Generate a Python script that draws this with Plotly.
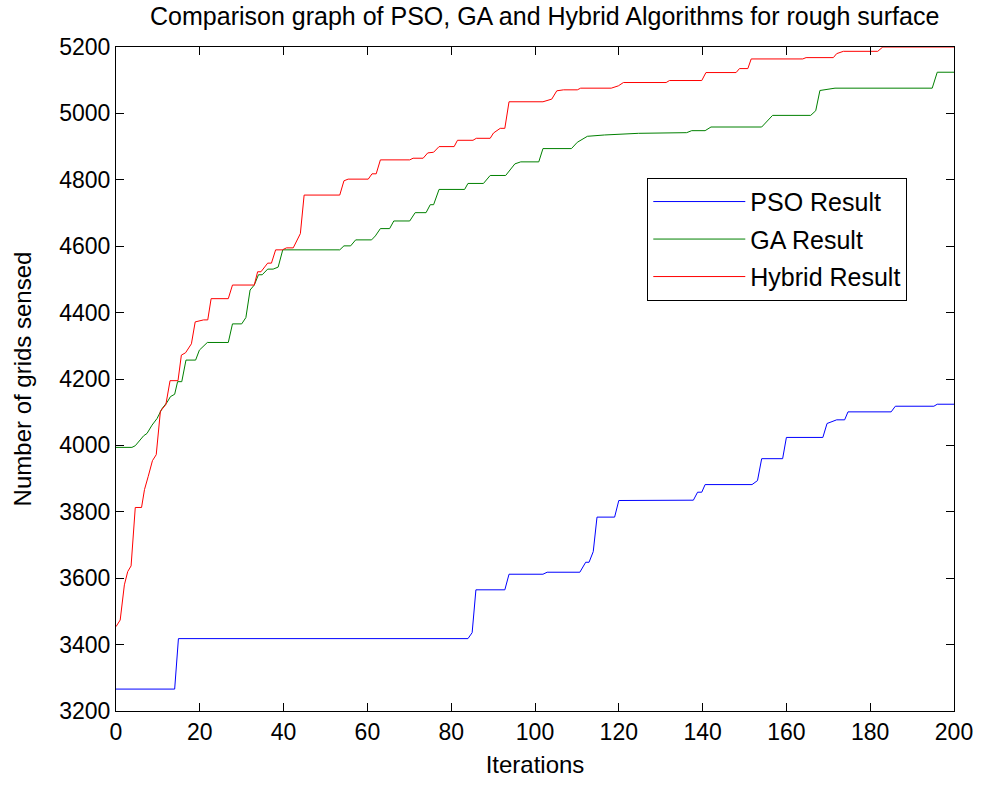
import plotly.graph_objects as go

# Hybrid (red) breakpoints: iteration, grids sensed
hyb_x = [0, 1, 2, 2.8, 3.6, 4.6, 6.1, 6.8, 7.7, 8.7, 9.6, 10.6, 11.9, 12.9, 14.8, 15.6, 16.6, 18.0,
         18.9, 20.9, 21.9, 22.7, 26.8, 27.8, 33.0, 33.8, 34.6, 36.2, 37.1, 38.1, 39.7, 40.7, 42.3,
         44.0, 44.9, 53.4, 54.4, 55.4, 60.2, 61.1, 62.1, 63.1, 70.1, 70.9, 73.3, 74.4, 75.8, 77.1,
         80.7, 81.5, 85.2, 86.0, 89.3, 90.1, 91.7, 92.8, 93.8, 101.9, 104.0, 105.2, 106.8, 110.1,
         110.9, 118.2, 119.9, 121.1, 131.3, 132.1, 139.8, 140.8, 148.0, 148.8, 150.8, 151.6, 163.9,
         164.7, 171.2, 172.0, 173.6, 181.8, 183.0, 200]
hyb_y = [3454, 3474, 3580, 3620, 3637, 3813, 3813, 3867, 3907, 3954, 3972, 4103, 4123, 4195, 4195, 4272, 4279, 4306,
         4372, 4378, 4378, 4442, 4442, 4483, 4483, 4523, 4523, 4549, 4549, 4589, 4589, 4595, 4595,
         4638, 4754, 4754, 4797, 4802, 4802, 4818, 4818, 4860, 4860, 4865, 4865, 4881, 4883, 4900,
         4900, 4919, 4919, 4925, 4925, 4941, 4955, 4955, 5035, 5035, 5043, 5068, 5071, 5071,
         5076, 5076, 5083, 5093, 5093, 5099, 5099, 5123, 5123, 5135, 5135, 5164, 5164,
         5168, 5168, 5180, 5187, 5187, 5200, 5200]

# GA (green) breakpoints
ga_x = [0, 3.8, 4.6, 6.6, 7.4, 8.6, 9.8, 11.0, 12.2, 13.0, 14.0, 14.7, 15.7, 16.7, 19.0, 19.9, 21.8, 26.8,
        27.8, 30.0, 31.0, 32.0, 33.0, 34.0, 34.9, 36.2, 37.5, 38.7, 39.8, 53.4, 54.4, 56.0, 57.2, 61.0,
        61.9, 63.1, 65.3, 66.3, 70.1, 71.4, 74.0, 75.0, 75.8, 77.1, 83.2, 84.0, 87.7, 89.3, 93.0, 95.2,
        96.6, 100.9, 101.9, 108.7, 110.1, 112.5, 116.6, 124.7, 136.2, 137.4, 140.6, 142.0, 154.1, 154.9,
        156.7, 165.8, 167.0, 168.0, 171.6, 194.8, 196.0, 200]
ga_y = [3994, 3994, 3999, 4029, 4036, 4061, 4081, 4111, 4130, 4147, 4154, 4192, 4192, 4257, 4257, 4287, 4310, 4310,
        4366, 4366, 4385, 4468, 4483, 4514, 4514, 4531, 4531, 4537, 4589, 4589, 4601, 4601, 4619, 4619,
        4631, 4653, 4653, 4676, 4676, 4701, 4701, 4725, 4725, 4771, 4771, 4789, 4789, 4813, 4813, 4848,
        4854, 4854, 4894, 4894, 4913, 4931, 4935, 4940, 4942, 4948, 4948, 4959, 4959, 4969,
        4994, 4994, 5008, 5069, 5076, 5076, 5124, 5124]

# PSO (blue) breakpoints
pso_x = [0, 14.0, 14.9, 84.0, 85.0, 85.9, 92.8, 93.8, 101.9, 102.9, 110.7, 112.1, 112.9, 113.9, 114.8,
         119.0, 120.0, 137.8, 138.8, 139.8, 140.6, 151.8, 153.1, 154.1, 159.1, 160.0, 168.7, 169.7,
         172.0, 173.9, 174.7, 185.0, 186.0, 195.2, 196.0, 200]
pso_y = [3266, 3266, 3418, 3418, 3436, 3565, 3565, 3612, 3612, 3618, 3618, 3648, 3648, 3680, 3784,
         3784, 3834, 3835, 3859, 3859, 3882, 3882, 3894, 3960, 3960, 4024, 4024, 4066,
         4077, 4077, 4101, 4101, 4118, 4118, 4124, 4124]

x_ticks = list(range(0, 201, 20))
y_ticks = list(range(3200, 5201, 200))

FONT = "Liberation Sans, Arial, sans-serif"

fig = go.Figure()
fig.add_trace(go.Scatter(x=pso_x, y=pso_y, mode="lines", name="PSO Result", legendgroup="a",
                         line=dict(color="#0000ff", width=1)))
fig.add_trace(go.Scatter(x=ga_x, y=ga_y, mode="lines", name="GA Result", legendgroup="b",
                         line=dict(color="#008000", width=1)))
fig.add_trace(go.Scatter(x=hyb_x, y=hyb_y, mode="lines", name="Hybrid Result", legendgroup="c",
                         line=dict(color="#ff0000", width=1)))

axis_common = dict(showgrid=False, zeroline=False, showline=True, linecolor="black", linewidth=1,
                   mirror="allticks", ticks="inside", ticklen=8, tickcolor="black",
                   tickfont=dict(family=FONT, size=23, color="black"))

fig.update_layout(
    width=985, height=785,
    margin=dict(l=116, r=25, t=47, b=72),
    paper_bgcolor="white", plot_bgcolor="white",
    title=dict(text="Comparison graph of PSO, GA and Hybrid Algorithms for rough surface",
               x=0.553, xanchor="center", y=0.99, yanchor="top",
               font=dict(family=FONT, size=25, color="black")),
    xaxis=dict(range=[0, 200], tickvals=x_ticks, title=dict(text="Iterations", standoff=12,
               font=dict(family=FONT, size=24, color="black")), **axis_common),
    yaxis=dict(range=[3200, 5200], tickvals=y_ticks, title=dict(text="Number of grids sensed", standoff=20,
               font=dict(family=FONT, size=24, color="black")), **axis_common),
    legend=dict(x=0.634, y=0.803, xanchor="left", yanchor="top",
                bgcolor="white", bordercolor="black", borderwidth=1,
                font=dict(family=FONT, size=25, color="black"),
                itemwidth=92, tracegroupgap=2),
    showlegend=True,
)

fig.write_html("out.html")
